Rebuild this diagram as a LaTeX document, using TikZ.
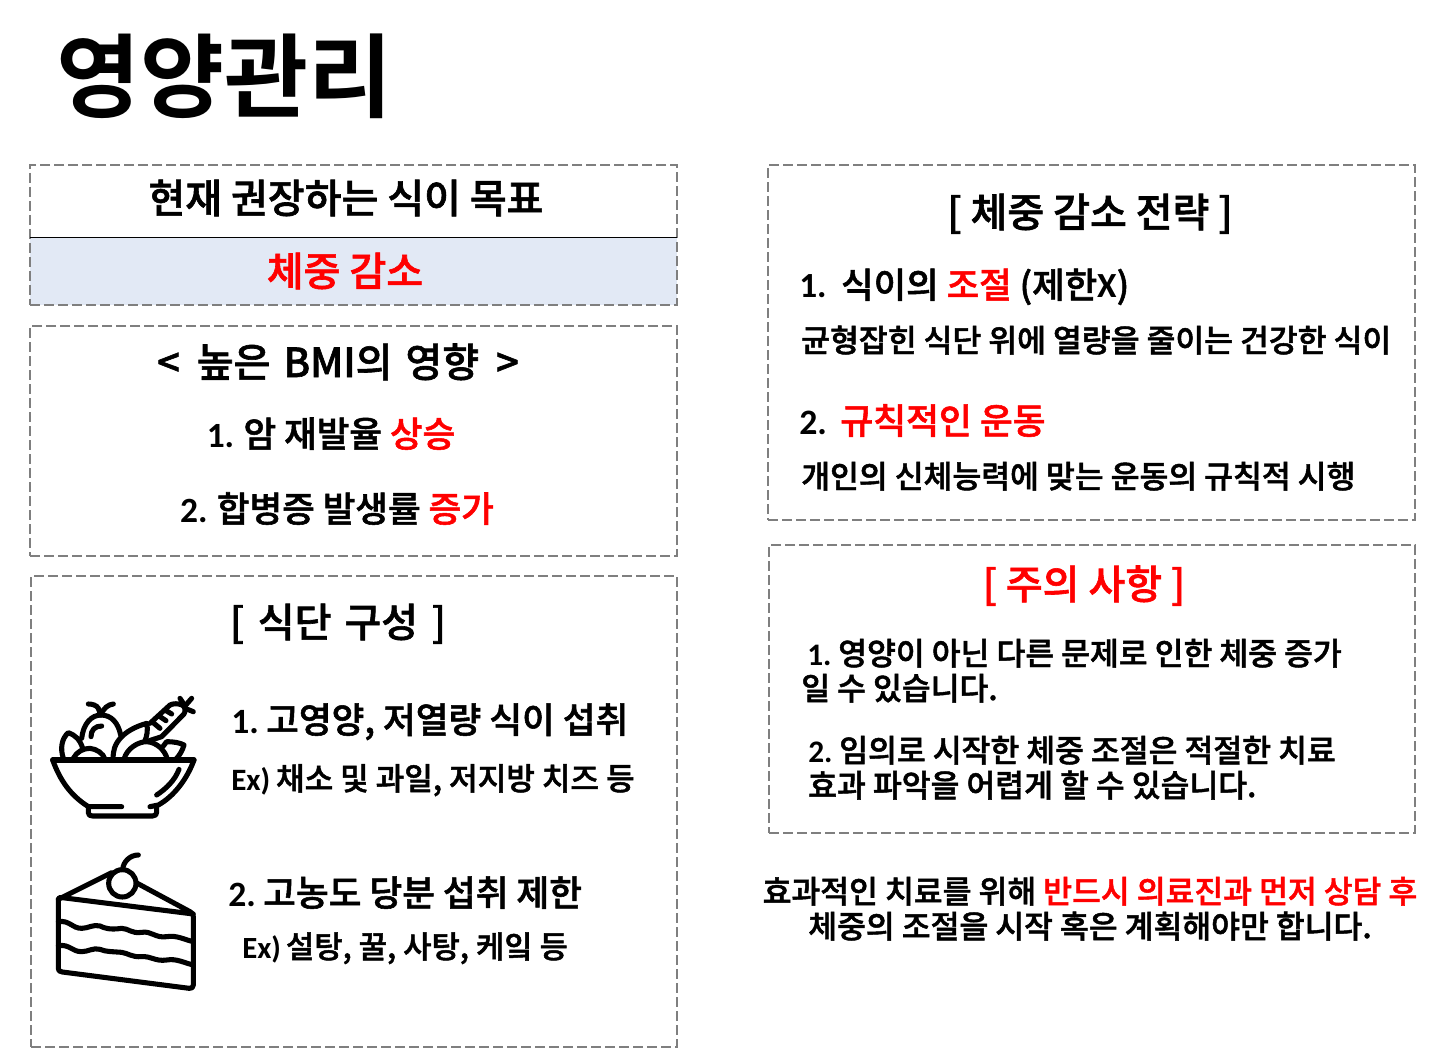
\documentclass[tikz,border=0pt]{standalone}
\usepackage{fontspec}
\setmainfont{Noto Sans CJK KR Medium}[FakeBold=1.5,BoldFont={Noto Sans CJK KR Bold},BoldFeatures={FakeBold=0}]
\newfontfamily\latf{Carlito}[BoldFont={Carlito Bold}]
\newcommand{\lt}[1]{{\latf\bfseries #1}}
\definecolor{dashgray}{RGB}{127,127,127}
\definecolor{hlblue}{RGB}{226,233,245}
\definecolor{redtxt}{RGB}{255,0,0}
\newcommand{\rd}[1]{\textcolor{redtxt}{#1}}
\newcommand{\fs}[1]{\fontsize{#1}{#1}\selectfont}
\tikzset{
 dashbox/.style={draw=dashgray,dash pattern=on 7.5pt off 3pt,line width=1.5pt,inner sep=0pt,outer sep=0pt,rectangle,anchor=north west},
 ltxt/.style={inner sep=0pt,anchor=base west,font=\fs{#1},text=black},
 ctxt/.style={inner sep=0pt,anchor=base,font=\fs{#1},text=black},
 icon/.style={line width=3.8pt,line cap=round,line join=round,draw=black}
}
\begin{document}
\begin{tikzpicture}[x=0.75pt,y=-0.75pt]
\useasboundingbox (0,0) rectangle (1448,1048);
\fill[white] (0,0) rectangle (1448,1048);
% title
\node[ltxt=68.5] (title) at (56,111) {\textbf{영양관리}};
% boxes
\fill[hlblue] (30,238) rectangle (677,305);
\node[dashbox,minimum width=485.25pt,minimum height=105pt] (b1) at (30,165) {};
\draw[black,line width=0.75pt] (b1.west |- 0,238) coordinate (dl) -- (b1.east |- 0,238) coordinate (dr);
\node[dashbox,minimum width=485.25pt,minimum height=172.5pt] (b2) at (30,326) {};
\node[dashbox,minimum width=484.5pt,minimum height=353pt] (b3) at (31,576) {};
\node[dashbox,minimum width=485.25pt,minimum height=266pt] (b4) at (768,165) {};
\node[dashbox,minimum width=484.5pt,minimum height=216pt] (b5) at (769,545) {};
% left column
\node[ctxt=30] (t1) at (346,213) {현재 권장하는 식이 목표};
\node[ctxt=30] (t2) at (345,286) {\rd{체중 감소}};
\node[ctxt=30] (t3) at (338,377) {<\hspace{0.2em} 높은\hspace{0.1em} BMI의\hspace{0.1em} 영향\hspace{0.2em} >};
\node[ctxt=26.6] (t4) at (331,447) {\lt{1.}\kern-1pt{} 암 재발율 \rd{상승}};
\node[ctxt=26.6] (t5) at (337,522) {\lt{2.}\kern-1pt{} 합병증 발생률 \rd{증가}};
\node[ctxt=30] (t6) at (338,637) {[\hspace{0.12em} 식단\hspace{0.1em} 구성\hspace{0.12em} ]};
\node[ltxt=26.7] (t7) at (231,733) {\lt{1.}\kern-2.5pt{} 고영양, 저열량 식이 섭취};
\node[ltxt=23.3] (t8) at (231,790) {\lt{Ex)}\kern-1pt{} 채소 및 과일, 저지방 치즈 등};
\node[ltxt=26.7] (t9) at (228,906) {\lt{2.}\kern-2.5pt{} 고농도 당분 섭취 제한};
\node[ltxt=23.1] (t10) at (242,958) {\lt{Ex)}\kern-1.5pt{} 설탕, 꿀, 사탕, 케잌 등};
% right column
\node[ctxt=30] (r1) at (1090,227) {[ 체중 감소 전략 ]};
\node[ltxt=26.5] (r2) at (799,298) {\lt{1.}\ \ \kern-1pt{}식이의 \rd{조절} (제한\lt{X})};
\node[ltxt=23.5] (r3) at (801,352) {균형잡힌 식단 위에 열량을 줄이는 건강한 식이};
\node[ltxt=26.8] (r4) at (799,434) {\lt{2.}\ \ \kern-2pt{}\rd{규칙적인 운동}};
\node[ltxt=23.5] (r5) at (801,488) {개인의 신체능력에 맞는 운동의 규칙적 시행};
\node[ctxt=30] (r6) at (1084,599) {\rd{[ 주의 사항 ]}};
\node[ltxt=23.5] (r7) at (807,665) {\lt{1.}\kern-2pt{} 영양이 아닌 다른 문제로 인한 체중 증가};
\node[ltxt=23.5] (r8) at (801,700) {일 수 있습니다.};
\node[ltxt=23.5] (r9) at (808,762) {\lt{2.}\kern-2pt{} 임의로 시작한 체중 조절은 적절한 치료};
\node[ltxt=23.5] (r10) at (808,797) {효과 파악을 어렵게 할 수 있습니다.};
\node[ctxt=23.5] (r11) at (1090,903) {효과적인 치료를 위해 \rd{반드시 의료진과 먼저 상담 후}};
\node[ctxt=23.5] (r12) at (1090,938) {체중의 조절을 시작 혹은 계획해야만 합니다.};
% bowl icon
\begin{scope}[shift={(30,680)},x=0.25pt,y=-0.25pt,icon]
\draw (68,240) -- (492,240);
\draw (68,240) .. controls (90,300) and (120,345) .. (175,380) -- (275,380);
\draw (492,240) .. controls (470,300) and (430,350) .. (385,375) -- (360,380);
\draw (175,380) -- (175,398) .. controls (175,405) and (180,408) .. (188,408) -- (368,408) .. controls (376,408) and (380,404) .. (380,396) -- (380,378);
\draw (380,345) .. controls (410,325) and (435,300) .. (447,268);
\draw (155,175) .. controls (160,130) and (185,105) .. (213,105) .. controls (245,105) and (265,130) .. (272,165);
\draw (212,105) -- (205,85) .. controls (200,75) and (185,72) .. (175,72);
\draw (212,105) .. controls (220,85) and (235,73) .. (250,72);
\draw (183,170) .. controls (183,150) and (195,138) .. (215,138);
\draw (100,235) .. controls (90,205) and (95,175) .. (115,158) .. controls (135,165) and (150,178) .. (158,205);
\draw (130,235) .. controls (140,215) and (160,205) .. (180,205) .. controls (200,207) and (220,220) .. (225,238);
\draw (250,238) .. controls (245,190) and (280,150) .. (350,130) .. controls (355,150) and (350,170) .. (345,182);
\draw (282,238) .. controls (290,205) and (325,185) .. (350,185) .. controls (380,187) and (405,210) .. (412,238);
\draw (358,182) -- (395,170) -- (462,102) .. controls (468,92) and (466,80) .. (456,75) .. controls (445,70) and (430,70) .. (420,75) -- (360,130);
\draw (372,130) -- (390,145);
\draw (390,110) -- (408,122);
\draw (405,90) -- (425,102);
\draw (450,55) -- (465,78);
\draw (465,78) -- (485,55);
\draw (465,85) -- (490,95);
\draw (400,198) -- (410,185) .. controls (430,185) and (450,188) .. (462,195) .. controls (458,210) and (448,228) .. (437,238);
\end{scope}
% cake icon
\begin{scope}[shift={(30,840)},x=0.25pt,y=-0.25pt,icon]
\draw (85,178) -- (245,98);
\draw (322,130) -- (480,215) .. controls (488,219) and (490,222) .. (490,230) -- (490,435) .. controls (490,442) and (485,446) .. (478,445) -- (97,396) .. controls (88,395) and (85,392) .. (85,385) -- (85,178) .. controls (85,172) and (90,172) .. (97,173) -- (490,222);
\draw (277,130) circle (41);
\draw (278,88) .. controls (280,65) and (300,45) .. (325,45);
\draw (85,245) .. controls (120,240) and (125,265) .. (155,265) .. controls (175,265) and (190,252) .. (210,258) .. controls (225,265) and (240,270) .. (275,265) .. controls (295,265) and (305,282) .. (335,277) .. controls (365,272) and (375,295) .. (410,290) .. controls (440,285) and (460,298) .. (490,305);
\draw (85,317) .. controls (120,312) and (125,335) .. (155,335) .. controls (175,335) and (190,322) .. (210,328) .. controls (225,335) and (250,335) .. (275,337) .. controls (295,340) and (305,352) .. (335,350) .. controls (365,348) and (375,365) .. (410,360) .. controls (440,355) and (460,368) .. (490,375);
\end{scope}
\end{tikzpicture}
\end{document}
